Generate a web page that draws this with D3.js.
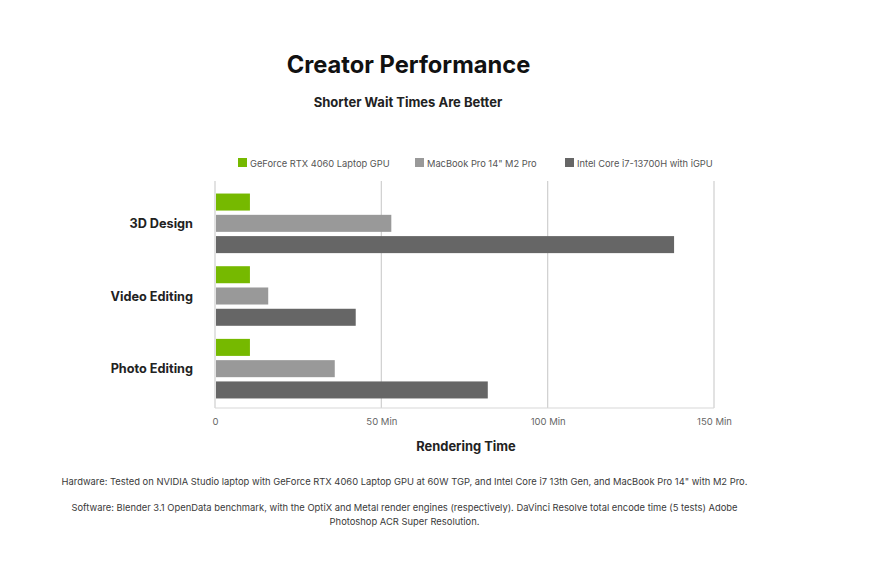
<!DOCTYPE html>
<html>
<head>
<meta charset="utf-8">
<script src="https://cdn.jsdelivr.net/npm/d3@7/dist/d3.min.js"></script>
<style>
  html, body { margin: 0; padding: 0; background: #fff; }
  svg { display: block; font-family: Inter, "Open Sans", sans-serif; }
</style>
</head>
<body>
<svg id="chart" width="870" height="565"></svg>
<script>
const categories = ["3D Design", "Video Editing", "Photo Editing"];
const seriesNames = ["GeForce RTX 4060 Laptop GPU", "MacBook Pro 14\" M2 Pro", "Intel Core i7-13700H with iGPU"];
const rtx4060 = [10.5, 10.5, 10.5];
const macM2Pro = [53, 16, 36];
const intelIGPU = [138, 42.3, 82];
const tickValues = [0, 50, 100, 150];
const tickLabels = ["0", "50 Min", "100 Min", "150 Min"];
const colors = ["#76b900", "#999999", "#666666"];

const seriesValues = [rtx4060, macM2Pro, intelIGPU];

const svg = d3.select("#chart");

const x = d3.scaleLinear().domain([0, 150]).range([215, 714]);
const y0 = d3.scaleBand().domain(categories).range([187, 405]).paddingInner(0.18).paddingOuter(0.09);
const y1 = d3.scaleBand().domain(seriesNames).range([0, y0.bandwidth()]).paddingInner(0.2);

const plotTop = 181, plotBottom = 408;

// Title
svg.append("text").attr("x", 408.5).attr("y", 73).attr("text-anchor", "middle")
  .attr("font-size", 23.7).attr("font-weight", 700).attr("fill", "#111").text("Creator Performance");
svg.append("text").attr("x", 408).attr("y", 107).attr("text-anchor", "middle")
  .attr("font-size", 13).attr("font-weight", 700).attr("fill", "#222").text("Shorter Wait Times Are Better");

// Legend
const legendX = [238, 415, 565];
const legend = svg.append("g");
seriesNames.forEach((n, i) => {
  legend.append("rect").attr("x", legendX[i]).attr("y", 158).attr("width", 9).attr("height", 9).attr("fill", colors[i]);
  legend.append("text").attr("x", legendX[i] + 12).attr("y", 166.5).attr("font-size", 9.3).attr("fill", "#555").text(n);
});

// Grid
const grid = svg.append("g");
grid.selectAll("line").data(tickValues).join("line")
  .attr("x1", d => x(d)).attr("x2", d => x(d))
  .attr("y1", plotTop).attr("y2", plotBottom)
  .attr("stroke", "#cfcfcf").attr("stroke-width", 1.2);
grid.append("line").attr("x1", x(0)).attr("x2", x(150)).attr("y1", plotBottom).attr("y2", plotBottom)
  .attr("stroke", "#d8d8d8").attr("stroke-width", 1.2);

// Bars
const groups = svg.append("g").selectAll("g").data(categories).join("g")
  .attr("transform", c => `translate(0,${y0(c)})`);
groups.selectAll("rect").data((c, ci) => seriesNames.map((s, si) => ({ s, si, v: seriesValues[si][ci] })))
  .join("rect")
  .attr("x", x(0) + 1)
  .attr("y", d => y1(d.s))
  .attr("width", d => x(d.v) - x(0) - 1)
  .attr("height", y1.bandwidth())
  .attr("fill", d => colors[d.si]);

// Y labels
svg.append("g").selectAll("text").data(categories).join("text")
  .attr("x", 193).attr("y", c => y0(c) + y0.bandwidth() / 2 + 4.5)
  .attr("text-anchor", "end").attr("font-size", 12.7).attr("font-weight", 700).attr("fill", "#222")
  .text(c => c);

// X axis
const xAxis = d3.axisBottom(x).tickValues(tickValues).tickFormat((d, i) => tickLabels[i]).tickSize(0).tickPadding(10);
const ax = svg.append("g").attr("transform", `translate(0,${plotBottom})`).call(xAxis);
ax.select(".domain").remove();
ax.selectAll("text").attr("font-size", 9.5).attr("fill", "#666").attr("font-family", "Inter, sans-serif");

svg.append("text").attr("x", 466).attr("y", 451).attr("text-anchor", "middle")
  .attr("font-size", 12.9).attr("font-weight", 700).attr("fill", "#222").text("Rendering Time");

// Footnotes
const foot = svg.append("g").attr("font-size", 9.4).attr("fill", "#3a3a3a").attr("text-anchor", "middle");
foot.append("text").attr("x", 404.5).attr("y", 485)
  .text("Hardware: Tested on NVIDIA Studio laptop with GeForce RTX 4060 Laptop GPU at 60W TGP, and Intel Core i7 13th Gen, and MacBook Pro 14\" with M2 Pro.");
foot.append("text").attr("x", 404.5).attr("y", 511)
  .text("Software: Blender 3.1 OpenData benchmark, with the OptiX and Metal render engines (respectively). DaVinci Resolve total encode time (5 tests) Adobe");
foot.append("text").attr("x", 404.5).attr("y", 524.5)
  .text("Photoshop ACR Super Resolution.");
</script>
</body>
</html>
